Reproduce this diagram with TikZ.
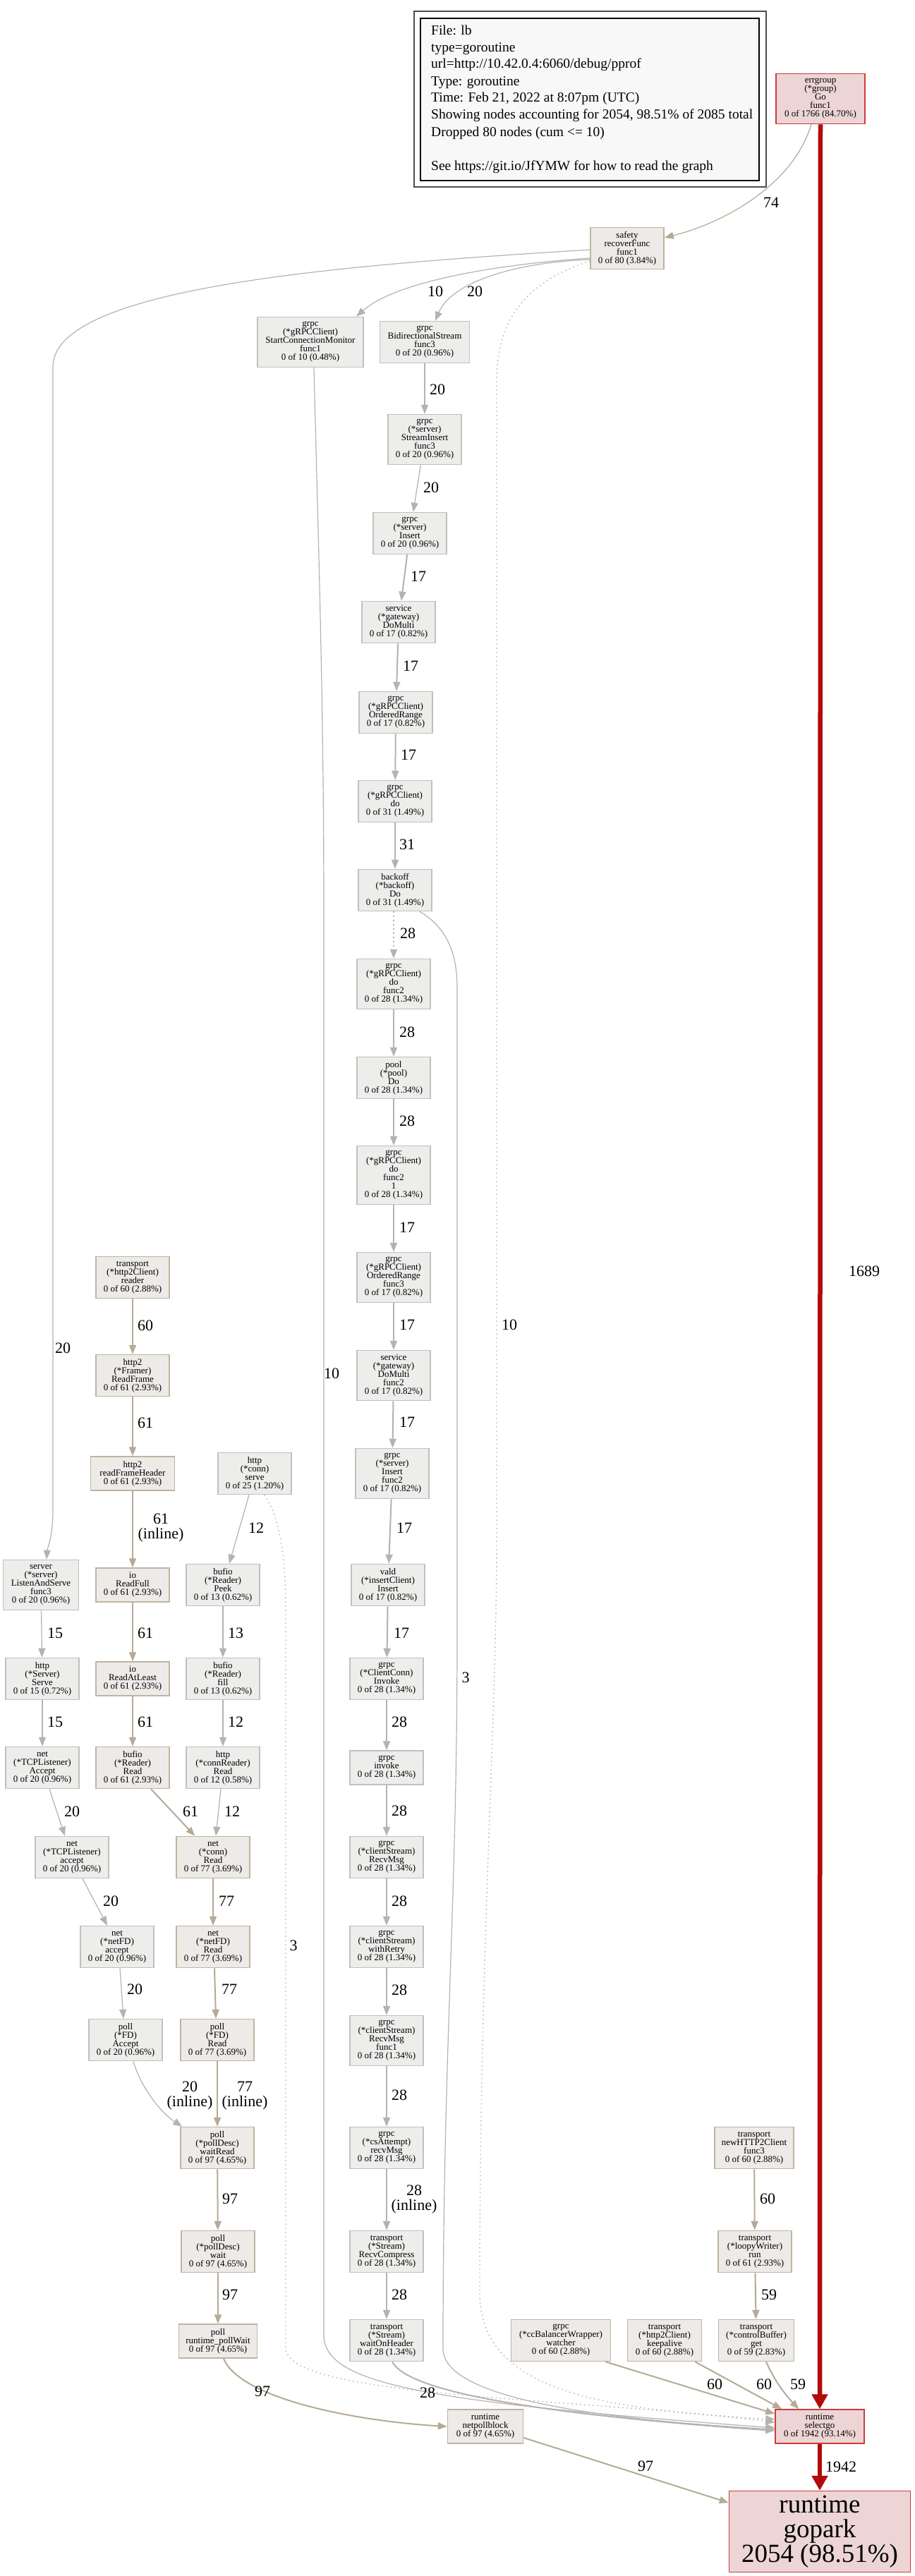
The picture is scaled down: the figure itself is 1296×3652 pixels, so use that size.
\documentclass[tikz,border=0pt]{standalone}
\usepackage{fontspec}
\setmainfont{Liberation Serif}
\usetikzlibrary{arrows.meta,calc}
\definecolor{grayE}{RGB}{180,179,175}
\definecolor{tanE}{RGB}{182,170,150}
\definecolor{redE}{RGB}{178,12,10}
\definecolor{redB}{RGB}{204,60,60}
\definecolor{redF}{RGB}{237,213,213}
\definecolor{grayF}{RGB}{237,237,236}
\definecolor{tanF}{RGB}{237,235,232}
\definecolor{grayB}{RGB}{192,192,188}
\definecolor{tanB}{RGB}{192,180,160}
\definecolor{legF}{RGB}{248,248,248}
\begin{document}
\begin{tikzpicture}[x=1pt,y=-1pt,
  fn/.style={draw,rectangle,line width=1.5pt,align=center,inner sep=0pt,
    font=\fontsize{13}{12}\selectfont,minimum width=104pt,minimum height=59pt},
  gn/.style={fn,draw=grayB,fill=grayF},
  tn/.style={fn,draw=tanB,fill=tanF},
  rn/.style={fn,draw=redB,fill=redF},
  h3/.style={minimum height=48pt},
  h5/.style={minimum height=71pt},
  h6/.style={minimum height=83pt},
  tip/.style={-{Triangle[length=13pt,width=10pt]}},
  eT/.style={draw=grayE,line width=1.2pt,tip},
  eM/.style={draw=grayE,line width=2pt,tip},
  tT/.style={draw=tanE,line width=1.2pt,tip},
  tM/.style={draw=tanE,line width=2pt,tip},
  eD/.style={draw=grayE,line width=1.4pt,dash pattern=on 1.5pt off 4.5pt,tip},
  rE/.style={draw=redE,line width=6.5pt,-{Triangle[length=21pt,width=22pt]}},
  lbl/.style={inner sep=0pt,align=center,font=\fontsize{22}{21}\selectfont},
  leg/.style={inner sep=0pt,anchor=base west,font=\fontsize{19.5}{24}\selectfont}
]
\useasboundingbox[fill=white] (0,0) rectangle (1296,3652);

% legend
\draw[line width=1.5pt,black!70] (587,16) rectangle (1086,265);
\draw[line width=1.5pt,fill=legF] (596,26) rectangle (1076,256);
\node[leg] (lg1) at (611,49) {File: lb};
\node[leg] (lg2) at (611,73) {type=goroutine};
\node[leg] (lg3) at (611,96) {url=http://10.42.0.4:6060/debug/pprof};
\node[leg] (lg4) at (611,121) {Type: goroutine};
\node[leg] (lg5) at (611,144) {Time: Feb 21, 2022 at 8:07pm (UTC)};
\node[leg] (lg6) at (611,168) {Showing nodes accounting for 2054, 98.51\% of 2085 total};
\node[leg] (lg7) at (611,193) {Dropped 80 nodes (cum <= 10)};
\node[leg] (lg8) at (611,241) {See https://git.io/JfYMW for how to read the graph};

% nodes: top
\node[rn,h5,minimum width=126pt] (eg) at (1163,140) {errgroup\\(*group)\\Go\\func1\\0 of 1766 (84.70\%)};
\node[tn] (sf) at (889,352) {safety\\recoverFunc\\func1\\0 of 80 (3.84\%)};
\node[gn,h5,minimum width=150pt] (scm) at (440,485) {grpc\\(*gRPCClient)\\StartConnectionMonitor\\func1\\0 of 10 (0.48\%)};
\node[gn,minimum width=127pt] (bs) at (602,485) {grpc\\BidirectionalStream\\func3\\0 of 20 (0.96\%)};
% central chain
\node[gn,h5] (si) at (602,623) {grpc\\(*server)\\StreamInsert\\func3\\0 of 20 (0.96\%)};
\node[gn] (ins) at (581,756) {grpc\\(*server)\\Insert\\0 of 20 (0.96\%)};
\node[gn] (dm) at (565,882) {service\\(*gateway)\\DoMulti\\0 of 17 (0.82\%)};
\node[gn] (orr) at (561,1010) {grpc\\(*gRPCClient)\\OrderedRange\\0 of 17 (0.82\%)};
\node[gn] (do) at (560,1136) {grpc\\(*gRPCClient)\\do\\0 of 31 (1.49\%)};
\node[gn] (bo) at (560,1262) {backoff\\(*backoff)\\Do\\0 of 31 (1.49\%)};
\node[gn,h5] (df2) at (558,1395) {grpc\\(*gRPCClient)\\do\\func2\\0 of 28 (1.34\%)};
\node[gn] (pool) at (558,1528) {pool\\(*pool)\\Do\\0 of 28 (1.34\%)};
\node[gn,h6] (df21) at (558,1666) {grpc\\(*gRPCClient)\\do\\func2\\1\\0 of 28 (1.34\%)};
\node[gn,h5] (orf3) at (558,1811) {grpc\\(*gRPCClient)\\OrderedRange\\func3\\0 of 17 (0.82\%)};
\node[gn,h5] (dmf2) at (558,1950) {service\\(*gateway)\\DoMulti\\func2\\0 of 17 (0.82\%)};
\node[gn,h5] (insf2) at (556,2089) {grpc\\(*server)\\Insert\\func2\\0 of 17 (0.82\%)};
\node[gn] (vald) at (550,2247) {vald\\(*insertClient)\\Insert\\0 of 17 (0.82\%)};
\node[gn] (inv) at (548,2380) {grpc\\(*ClientConn)\\Invoke\\0 of 28 (1.34\%)};
\node[gn,h3] (invk) at (548,2506) {grpc\\invoke\\0 of 28 (1.34\%)};
\node[gn] (csr) at (548,2633) {grpc\\(*clientStream)\\RecvMsg\\0 of 28 (1.34\%)};
\node[gn] (wr) at (548,2760) {grpc\\(*clientStream)\\withRetry\\0 of 28 (1.34\%)};
\node[gn,h5] (csrf) at (548,2893) {grpc\\(*clientStream)\\RecvMsg\\func1\\0 of 28 (1.34\%)};
\node[gn] (csa) at (548,3045) {grpc\\(*csAttempt)\\recvMsg\\0 of 28 (1.34\%)};
\node[gn] (rc) at (548,3192) {transport\\(*Stream)\\RecvCompress\\0 of 28 (1.34\%)};
\node[gn] (woh) at (548,3318) {transport\\(*Stream)\\waitOnHeader\\0 of 28 (1.34\%)};
% left
\node[tn] (rdr) at (188,1811) {transport\\(*http2Client)\\reader\\0 of 60 (2.88\%)};
\node[tn] (rf) at (188,1950) {http2\\(*Framer)\\ReadFrame\\0 of 61 (2.93\%)};
\node[tn,h3,minimum width=119pt] (rfh) at (188,2089) {http2\\readFrameHeader\\0 of 61 (2.93\%)};
\node[tn,h3] (rfull) at (188,2247) {io\\ReadFull\\0 of 61 (2.93\%)};
\node[tn,h3] (ral) at (188,2380) {io\\ReadAtLeast\\0 of 61 (2.93\%)};
\node[tn] (brd) at (188,2506) {bufio\\(*Reader)\\Read\\0 of 61 (2.93\%)};
\node[gn,h5,minimum width=107pt] (las) at (58,2247) {server\\(*server)\\ListenAndServe\\func3\\0 of 20 (0.96\%)};
\node[gn] (hss) at (60,2380) {http\\(*Server)\\Serve\\0 of 15 (0.72\%)};
\node[gn] (tla) at (60,2506) {net\\(*TCPListener)\\Accept\\0 of 20 (0.96\%)};
\node[gn] (tla2) at (102,2633) {net\\(*TCPListener)\\accept\\0 of 20 (0.96\%)};
\node[gn] (nfa) at (166,2760) {net\\(*netFD)\\accept\\0 of 20 (0.96\%)};
\node[gn] (fda) at (178,2892) {poll\\(*FD)\\Accept\\0 of 20 (0.96\%)};
\node[gn] (hcs) at (361,2089) {http\\(*conn)\\serve\\0 of 25 (1.20\%)};
\node[gn] (peek) at (316,2247) {bufio\\(*Reader)\\Peek\\0 of 13 (0.62\%)};
\node[gn] (fill) at (316,2380) {bufio\\(*Reader)\\fill\\0 of 13 (0.62\%)};
\node[gn] (crr) at (316,2506) {http\\(*connReader)\\Read\\0 of 12 (0.58\%)};
\node[tn] (ncr) at (302,2633) {net\\(*conn)\\Read\\0 of 77 (3.69\%)};
\node[tn] (nfr) at (302,2760) {net\\(*netFD)\\Read\\0 of 77 (3.69\%)};
\node[tn] (fdr) at (308,2892) {poll\\(*FD)\\Read\\0 of 77 (3.69\%)};
\node[tn] (wrd) at (308,3045) {poll\\(*pollDesc)\\waitRead\\0 of 97 (4.65\%)};
\node[tn] (wt) at (309,3192) {poll\\(*pollDesc)\\wait\\0 of 97 (4.65\%)};
\node[tn,h3,minimum width=111pt] (pw) at (309,3319) {poll\\runtime\_pollWait\\0 of 97 (4.65\%)};
\node[tn,h3,minimum width=107pt] (npb) at (688,3440) {runtime\\netpollblock\\0 of 97 (4.65\%)};
% right
\node[tn,minimum width=112pt] (nh2) at (1069,3045) {transport\\newHTTP2Client\\func3\\0 of 60 (2.88\%)};
\node[tn] (lw) at (1070,3192) {transport\\(*loopyWriter)\\run\\0 of 61 (2.93\%)};
\node[tn,minimum width=141pt] (ccb) at (795,3318) {grpc\\(*ccBalancerWrapper)\\watcher\\0 of 60 (2.88\%)};
\node[tn,minimum width=105pt] (ka) at (942,3318) {transport\\(*http2Client)\\keepalive\\0 of 60 (2.88\%)};
\node[tn,minimum width=107pt] (cbg) at (1072,3318) {transport\\(*controlBuffer)\\get\\0 of 59 (2.83\%)};
\node[rn,h3,minimum width=126pt] (sel) at (1162,3440) {runtime\\selectgo\\0 of 1942 (93.14\%)};
\node[rn,minimum width=257pt,minimum height=115pt,font=\fontsize{37}{35}\selectfont] (gp) at (1162,3589) {runtime\\gopark\\2054 (98.51\%)};

% red edges
\draw[rE] (eg) -- (sel);
\draw[rE] (sel) -- (gp);
% top curved edges
\draw[tT] ($(eg.south)+(-13,0)$) .. controls (1125,260) and (1030,315) .. ($(sf.east)+(0,-15)$);
\draw[eT] ($(sf.west)+(0,2)$) .. controls (500,375) and (75,405) .. (75,520) -- (75,2140) .. controls (75,2180) and (67,2195) .. ($(las.north)+(8,0)$);
\draw[eT] ($(sf.west)+(0,14)$) .. controls (700,375) and (560,400) .. ($(scm.north)+(65,0)$);
\draw[eT] ($(sf.west)+(0,16)$) .. controls (730,372) and (640,400) .. ($(bs.north)+(15,0)$);
\draw[eD] ($(sf.west)+(0,18)$) .. controls (760,395) and (704,440) .. (704,540) -- (704,2180) .. controls (704,2450) and (680,2750) .. (680,3250) .. controls (680,3390) and (850,3415) .. ($(sel.west)+(0,-10)$);
\draw[eT] ($(scm.south)+(5,0)$) .. controls (452,800) and (459,1000) .. (459,1300) -- (459,3310) .. controls (459,3380) and (600,3405) .. ($(sel.west)+(0,2)$);
\draw[eT] ($(bo.south east)+(-18,0)$) .. controls (625,1310) and (648,1340) .. (648,1400) -- (648,2320) .. controls (648,2700) and (628,2900) .. (628,3330) .. controls (628,3400) and (850,3430) .. ($(sel.west)+(0,4)$);
\draw[eD] ($(hcs.south)+(14,0)$) .. controls (395,2150) and (405,2200) .. (405,2280) -- (405,3330) .. controls (410,3398) and (800,3398) .. ($(sel.west)+(0,-6)$);
\draw[eM] ($(woh.south)+(8,0)$) .. controls (580,3395) and (800,3425) .. ($(sel.west)+(0,6)$);
% central chain
\draw[eT] (bs) -- (si);
\draw[eT] (si) -- (ins);
\draw[eM] (ins) -- (dm);
\draw[eM] (dm) -- (orr);
\draw[eM] (orr) -- (do);
\draw[eM] (do) -- (bo);
\draw[eD,line width=1.6pt] ($(bo.south)+(-2,0)$) -- ($(df2.north)+(0,0)$);
\draw[eM] (df2) -- (pool);
\draw[eM] (pool) -- (df21);
\draw[eM] (df21) -- (orf3);
\draw[eM] (orf3) -- (dmf2);
\draw[eM] (dmf2) -- (insf2);
\draw[eM] (insf2) -- (vald);
\draw[eM] (vald) -- (inv);
\draw[eM] (inv) -- (invk);
\draw[eM] (invk) -- (csr);
\draw[eM] (csr) -- (wr);
\draw[eM] (wr) -- (csrf);
\draw[eM] (csrf) -- (csa);
\draw[eM] (csa) -- (rc);
\draw[eM] (rc) -- (woh);
% left chains
\draw[tM] (rdr) -- (rf);
\draw[tM] (rf) -- (rfh);
\draw[tM] (rfh) -- (rfull);
\draw[tM] (rfull) -- (ral);
\draw[tM] (ral) -- (brd);
\draw[tM] ($(brd.south)+(26,0)$) -- ($(ncr.north west)+(27,0)$);
\draw[eT] (las) -- (hss);
\draw[eT] (hss) -- (tla);
\draw[eT] ($(tla.south)+(10,0)$) -- ($(tla2.north)+(-10,0)$);
\draw[eT] ($(tla2.south)+(15,0)$) -- ($(nfa.north)+(-14,0)$);
\draw[eT] ($(nfa.south)+(4,0)$) -- ($(fda.north)+(-3,0)$);
\draw[eT] ($(fda.south)+(11,0)$) .. controls (200,2960) and (228,2995) .. ($(wrd.north west)+(3,0)$);
\draw[eT] ($(hcs.south)+(-8,0)$) -- ($(peek.north)+(9,0)$);
\draw[eT] (peek) -- (fill);
\draw[eT] (fill) -- (crr);
\draw[eT] ($(crr.south)+(-3,0)$) -- ($(ncr.north)+(4,0)$);
\draw[tM] (ncr) -- (nfr);
\draw[tM] ($(nfr.south)+(2,0)$) -- ($(fdr.north)+(-2,0)$);
\draw[tM] (fdr) -- (wrd);
\draw[tM] (wrd) -- (wt);
\draw[tM] (wt) -- (pw);
\draw[tM] ($(pw.south)+(8,0)$) .. controls (340,3400) and (500,3432) .. (npb.west);
\draw[tM] ($(npb.east)+(0,16)$) -- ($(gp.west)+(0,-41)$);
% right
\draw[tM] (nh2) -- (lw);
\draw[tM] (lw) -- (cbg);
\draw[tM] ($(ccb.south east)+(-8,0)$) -- ($(sel.west)+(0,-18)$);
\draw[tM] ($(ka.south east)+(-10,0)$) -- ($(sel.north west)+(10,0)$);
\draw[tM] ($(cbg.south)+(14,0)$) .. controls (1100,3380) and (1118,3400) .. ($(sel.north west)+(34,0)$);

% labels
\node[lbl] (l74) at (1093,287) {74};
\node[lbl] (l1689) at (1225,1802) {1689};
\node[lbl] (l1942) at (1192,3497) {1942};
\node[lbl] (l10a) at (617,413) {10};
\node[lbl] (l20a) at (673,413) {20};
\node[lbl] (l20b) at (89,1911) {20};
\node[lbl] (l10b) at (722,1878) {10};
\node[lbl] (l10c) at (470,1947) {10};
\node[lbl] (l3a) at (660,2378) {3};
\node[lbl] (l3b) at (416,2758) {3};
\node[lbl] (c1) at (620,552) {20};
\node[lbl] (c2) at (611,691) {20};
\node[lbl] (c3) at (593,817) {17};
\node[lbl] (c4) at (582,944) {17};
\node[lbl] (c5) at (579,1070) {17};
\node[lbl] (c6) at (577,1197) {31};
\node[lbl] (c7) at (578,1323) {28};
\node[lbl] (c8) at (577,1463) {28};
\node[lbl] (c9) at (577,1589) {28};
\node[lbl] (c10) at (577,1740) {17};
\node[lbl] (c11) at (577,1878) {17};
\node[lbl] (c12) at (577,2016) {17};
\node[lbl] (c13) at (573,2166) {17};
\node[lbl] (c14) at (569,2315) {17};
\node[lbl] (c15) at (566,2441) {28};
\node[lbl] (c16) at (566,2567) {28};
\node[lbl] (c17) at (566,2695) {28};
\node[lbl] (c18) at (566,2821) {28};
\node[lbl] (c19) at (566,2970) {28};
\node[lbl] (c20) at (587,3118) {28\\(inline)};
\node[lbl] (c21) at (566,3253) {28};
\node[lbl] (c22) at (606,3392) {28};
\node[lbl] (b1) at (206,1879) {60};
\node[lbl] (b2) at (206,2017) {61};
\node[lbl] (b3) at (228,2166) {61\\(inline)};
\node[lbl] (b4) at (206,2315) {61};
\node[lbl] (b5) at (206,2441) {61};
\node[lbl] (b6) at (270,2568) {61};
\node[lbl] (a1) at (78,2315) {15};
\node[lbl] (a2) at (78,2441) {15};
\node[lbl] (a3) at (102,2568) {20};
\node[lbl] (a4) at (157,2695) {20};
\node[lbl] (a5) at (191,2820) {20};
\node[lbl] (a6) at (269,2971) {20\\(inline)};
\node[lbl] (d1) at (363,2166) {12};
\node[lbl] (d2) at (334,2315) {13};
\node[lbl] (d3) at (334,2441) {12};
\node[lbl] (d4) at (329,2568) {12};
\node[lbl] (d5) at (321,2695) {77};
\node[lbl] (d6) at (325,2820) {77};
\node[lbl] (d7) at (347,2971) {77\\(inline)};
\node[lbl] (d8) at (326,3117) {97};
\node[lbl] (d9) at (326,3253) {97};
\node[lbl] (d10) at (372,3390) {97};
\node[lbl] (d11) at (915,3496) {97};
\node[lbl] (r1) at (1088,3117) {60};
\node[lbl] (r2) at (1090,3253) {59};
\node[lbl] (r3) at (1013,3380) {60};
\node[lbl] (r4) at (1083,3380) {60};
\node[lbl] (r5) at (1131,3380) {59};
\end{tikzpicture}
\end{document}
